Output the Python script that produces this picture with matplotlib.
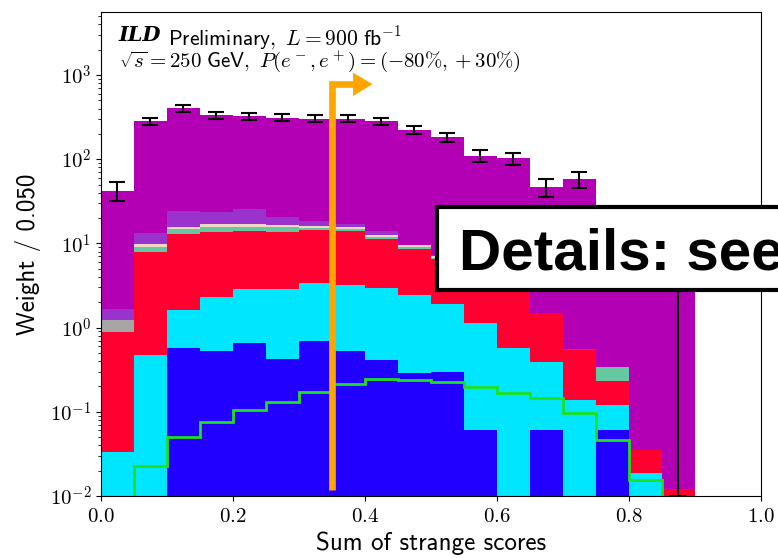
import numpy as np
import matplotlib
matplotlib.use("Agg")
import matplotlib.pyplot as plt
from matplotlib.ticker import FuncFormatter, LogLocator, NullFormatter
from matplotlib.patches import Rectangle, Polygon

plt.rcParams['mathtext.fontset'] = 'cm'

# 20 bins of width 0.05 on the "sum of strange scores"
edges = np.linspace(0.0, 1.0, 21)
bin_width = 0.05

# cumulative top of each stacked layer, bottom -> top
blue_top = [0, 0, 0.58, 0.53, 0.65, 0.42, 0.70, 0.53, 0.41, 0.29,
            0.30, 0.06, 0, 0.06, 0, 0.06, 0, 0, 0, 0]
cyan_top = [0.0336, 0.47, 1.62, 2.33, 2.85, 2.85, 3.36, 3.21, 2.93, 2.44,
            1.91, 1.14, 0.57, 0.39, 0.138, 0.12, 0.0186, 0, 0, 0]
red_top = [0.88, 7.96, 12.9, 13.6, 14.2, 13.8, 14.4, 14.2, 11.3, 8.65,
           6.5, 4.5, 3.0, 1.48, 0.54, 0.234, 0.035, 0.012, 0, 0]
teal_top = [0.88, 9.06, 14.7, 15.8, 15.8, 15.6, 15.3, 15.0, 12.0, 9.1,
            6.8, 4.6, 3.05, 1.48, 0.54, 0.338, 0.035, 0.012, 0, 0]
beige_top = [0.88, 9.8, 15.8, 16.9, 16.9, 16.7, 16.1, 15.8, 12.6, 9.5,
             7.0, 4.7, 3.1, 1.49, 0.545, 0.338, 0.035, 0.012, 0, 0]
grey_top = [1.23, 9.8, 15.8, 16.9, 16.9, 16.7, 16.1, 15.8, 12.6, 9.5,
            7.0, 4.7, 3.1, 1.49, 0.545, 0.338, 0.035, 0.012, 0, 0]
violet_top = [1.65, 13.2, 24.4, 23.4, 25.4, 20.6, 18.5, 16.9, 14.2, 9.6,
              7.2, 4.8, 3.2, 1.5, 0.55, 0.338, 0.035, 0.012, 0, 0]
total = [42.3, 284, 403, 332, 323, 311, 303, 303, 284, 222,
         182, 110, 103, 47, 58, 15, 8, 4, 0, 0]
total_err = [10.6, 28, 37, 31, 30, 29, 29, 28, 28, 25,
             22, 17.6, 17, 11, 13, 5, 4, 3.99, 0, 0]

# signal shown as an unstacked step line
signal = [0, 0.0227, 0.0506, 0.0757, 0.105, 0.132, 0.172, 0.214, 0.247, 0.239,
          0.228, 0.199, 0.169, 0.145, 0.096, 0.0463, 0.0155, 0, 0, 0]

cut_value = 0.35

fig = plt.figure(figsize=(7.78, 5.58), dpi=100)
ax = fig.add_axes([0.1298, 0.1111, 0.8483, 0.8674])

# draw stack from the top layer down, each covering the ones beneath
layers = [
    (total, '#b400b4'),
    (violet_top, '#9a33cc'),
    (grey_top, '#a6a6a6'),
    (beige_top, '#efd9c4'),
    (teal_top, '#66c8a0'),
    (red_top, '#ff0030'),
    (cyan_top, '#00e6ff'),
    (blue_top, '#2200ff'),
]
for tops, col in layers:
    ax.bar(edges[:-1], tops, width=bin_width, align='edge', color=col, linewidth=0)

ax.stairs(signal, edges, color='#1fe01f', linewidth=2)

centers = edges[:-1] + bin_width / 2
has_entry = np.array(total) > 0
ax.errorbar(centers[has_entry], np.array(total)[has_entry],
            yerr=np.array(total_err)[has_entry], fmt='none', ecolor='black',
            elinewidth=1.5, capsize=6, capthick=1.5)

ax.set_yscale('log')
ax.set_xlim(0, 1)
ax.set_ylim(0.01, 5600)
ax.yaxis.set_major_locator(LogLocator(base=10, numticks=10))
ax.yaxis.set_minor_locator(LogLocator(base=10, subs=np.arange(2, 10), numticks=20))
ax.yaxis.set_major_formatter(FuncFormatter(lambda v, p: r"$10^{%d}$" % int(round(np.log10(v)))))
ax.yaxis.set_minor_formatter(NullFormatter())
ax.set_xticks([0.0, 0.2, 0.4, 0.6, 0.8, 1.0])
ax.xaxis.set_major_formatter(FuncFormatter(lambda v, p: r"$%.1f$" % v))
ax.tick_params(labelsize=15)

ax.set_xlabel("Sum of strange scores", fontsize=18, family='cmss10', labelpad=4)
ax.set_ylabel("Weight / 0.050", fontsize=18, family='cmss10', labelpad=6)

# header text
t1 = ax.text(0.027, 0.940, "ILD", transform=ax.transAxes, fontsize=15,
             family='DejaVu Serif', fontweight='bold', style='italic',
             va='baseline')
ax.annotate(r"$\mathsf{Preliminary,}\ L = 900\ \mathsf{fb}^{-1}$", xy=(1, 0),
            xycoords=t1, xytext=(5, 0), textcoords='offset points',
            fontsize=15.5, va='baseline')
ax.text(0.027, 0.887, r"$\sqrt{s} = 250\ \mathsf{GeV},\ P(e^-,e^+) = (-80\%, +30\%)$",
        transform=ax.transAxes, fontsize=15, va='baseline')

# orange cut marker
orange = '#ffa500'
ax.plot([cut_value, cut_value, 0.383], [0.0124, 0.851, 0.851], transform=ax.transAxes,
        color=orange, linewidth=4.8, solid_joinstyle='miter', solid_capstyle='butt')
ax.add_patch(Polygon([[0.382, 0.8746], [0.382, 0.8264], [0.4117, 0.851]],
                     closed=True, transform=ax.transAxes, color=orange, linewidth=0))

# overlay box
fig.patches.append(Rectangle((437 / 778, (558 - 290) / 558), 0.6, 83 / 558,
                             transform=fig.transFigure, facecolor='white',
                             edgecolor='black', linewidth=3))
fig.text(459 / 778, (558 - 270) / 558, "Details: see backup", fontsize=42,
         family='Liberation Sans', fontweight='bold', va='baseline')

fig.savefig('out.png', dpi=100)
